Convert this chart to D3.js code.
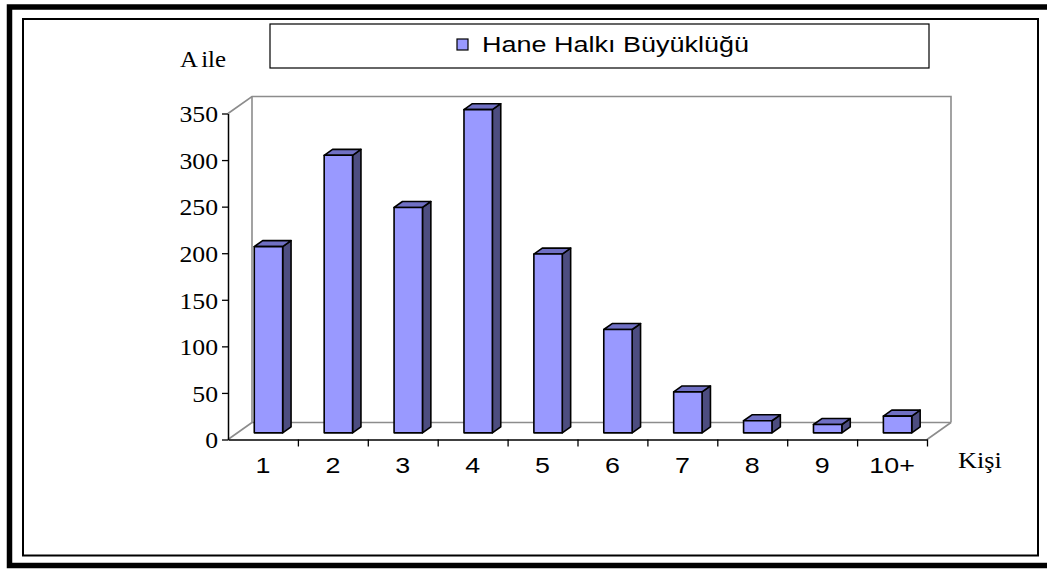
<!DOCTYPE html>
<html>
<head>
<meta charset="utf-8">
<script src="https://cdn.jsdelivr.net/npm/d3@7"></script>
<style>
  body { margin: 0; background: #fff; }
  svg { display: block; }
</style>
</head>
<body>
<script>
// Household size distribution (number of families per household size)
const categories = ["1", "2", "3", "4", "5", "6", "7", "8", "9", "10+"];
const families = [200, 298, 242, 347, 192, 111, 44, 13, 9, 18];
const yTickValues = [0, 50, 100, 150, 200, 250, 300, 350];
const seriesName = "Hane Halkı Büyüklüğü";
const yTitle = "Aile";
const xTitle = "Kişi";

const W = 1047, H = 569;
const SERIF = "'Liberation Serif', 'Times New Roman', serif";
const SANS = "'Liberation Sans', Arial, sans-serif";

const svg = d3.select("body").append("svg")
  .attr("width", W).attr("height", H);

// outer and inner frames
svg.append("rect")
  .attr("x", 9.5).attr("y", 7).attr("width", 1060).attr("height", 558.5)
  .attr("fill", "none").attr("stroke", "#000").attr("stroke-width", 5.5);
svg.append("rect")
  .attr("x", 23).attr("y", 19).attr("width", 1015).attr("height", 536.5)
  .attr("fill", "none").attr("stroke", "#000").attr("stroke-width", 2);

// plot geometry (front plane) and 3-D depth offset of the back wall
const plotLeft = 228, plotRight = 927, plotBottom = 439.5, plotTop = 113.5;
const DX = 24, DY = -17;
const barFront = 0.39, barBack = 0.74;

const x = d3.scaleBand().domain(categories).range([plotLeft, plotRight]);
const y = d3.scaleLinear().domain([0, 350]).range([plotBottom, plotTop]);
const bw = x.bandwidth();

const proj = (px, py, f) => [px + DX * f, py + DY * f];

// helper for horizontally stretched text
function label(g, px, py, str, font, size, sx, anchor) {
  return g.append("text")
    .attr("transform", `translate(${px},${py}) scale(${sx},1)`)
    .attr("text-anchor", anchor)
    .attr("font-family", font)
    .attr("font-size", size)
    .attr("fill", "#000")
    .text(str);
}

// walls and floor
const wall = svg.append("g")
  .attr("fill", "none").attr("stroke", "#8c8c8c").attr("stroke-width", 1.6);
const yMax = y(350);
wall.append("path").attr("d", d3.line()([
  [plotLeft, yMax], proj(plotLeft, yMax, 1), proj(plotRight, yMax, 1), proj(plotRight, plotBottom, 1)
]));
wall.append("path").attr("d", d3.line()([
  proj(plotLeft, yMax, 1), proj(plotLeft, plotBottom, 1), proj(plotRight, plotBottom, 1)
]));
wall.append("path").attr("d", d3.line()([[plotLeft, plotBottom], proj(plotLeft, plotBottom, 1)]));
wall.append("path").attr("d", d3.line()([[plotRight, plotBottom], proj(plotRight, plotBottom, 1)]));

// bars
const bars = svg.append("g")
  .attr("stroke", "#000").attr("stroke-width", 1.6).attr("stroke-linejoin", "round");
categories.forEach((c, i) => {
  const v = families[i];
  const left = x(c) + bw * 0.242;
  const right = left + bw * 0.406;
  const top = y(v), bot = y(0);
  const fTL = proj(left, top, barFront), fTR = proj(right, top, barFront);
  const fBR = proj(right, bot, barFront);
  const bTL = proj(left, top, barBack), bTR = proj(right, top, barBack);
  const bBR = proj(right, bot, barBack);
  bars.append("path").attr("fill", "#4d4d80")
    .attr("d", d3.line()([fTR, fBR, bBR, bTR]) + "Z");
  bars.append("path").attr("fill", "#7070c4")
    .attr("d", d3.line()([fTL, fTR, bTR, bTL]) + "Z");
  bars.append("rect").attr("fill", "#9999ff")
    .attr("x", fTL[0]).attr("y", fTL[1])
    .attr("width", right - left).attr("height", bot - top);
});

// value axis
const sxY = 1.12;
const yAxis = svg.append("g")
  .attr("transform", `translate(${plotLeft},0)`)
  .call(d3.axisLeft(y).tickValues(yTickValues).tickSize(6).tickSizeOuter(0));
yAxis.select(".domain").attr("stroke", "#000").attr("stroke-width", 1.5);
yAxis.selectAll(".tick line").attr("stroke", "#000").attr("stroke-width", 1.3);
yAxis.selectAll(".tick text")
  .attr("font-family", SERIF).attr("font-size", 23).attr("fill", "#000")
  .attr("x", -10 / sxY).attr("dy", "0.36em")
  .attr("transform", `scale(${sxY},1)`);

// category axis (ticks on category boundaries)
const xb = d3.scaleLinear().domain([0, categories.length]).range([plotLeft, plotRight]);
const xAxis = svg.append("g")
  .attr("transform", `translate(0,${plotBottom})`)
  .call(d3.axisBottom(xb).tickValues(d3.range(1, categories.length + 1))
    .tickFormat("").tickSize(7).tickSizeOuter(0));
xAxis.select(".domain").attr("stroke", "#000").attr("stroke-width", 1.5);
xAxis.selectAll(".tick line").attr("stroke", "#000").attr("stroke-width", 1.3);

const catLabels = svg.append("g");
categories.forEach(c => {
  label(catLabels, x(c) + bw / 2, 472.5, c, SANS, 22, 1.22, "middle");
});

// axis titles
const yt = label(svg, 180, 66.5, "", SERIF, 23, 1.08, "start");
yt.append("tspan").text(yTitle.slice(0, 1));
yt.append("tspan").attr("dx", 3).text(yTitle.slice(1));
label(svg, 958, 468, xTitle, SERIF, 23, 1.14, "start");

// legend
const legend = svg.append("g");
legend.append("rect")
  .attr("x", 270).attr("y", 24).attr("width", 659).attr("height", 44)
  .attr("fill", "#fff").attr("stroke", "#000").attr("stroke-width", 1.2);
legend.append("rect")
  .attr("x", 457).attr("y", 39).attr("width", 11).attr("height", 11)
  .attr("fill", "#9999ff").attr("stroke", "#000").attr("stroke-width", 1.2);
legend.append("text")
  .attr("x", 482).attr("y", 52)
  .attr("font-family", SANS).attr("font-size", 22).attr("fill", "#000")
  .attr("textLength", 267).attr("lengthAdjust", "spacingAndGlyphs")
  .text(seriesName);
</script>
</body>
</html>
